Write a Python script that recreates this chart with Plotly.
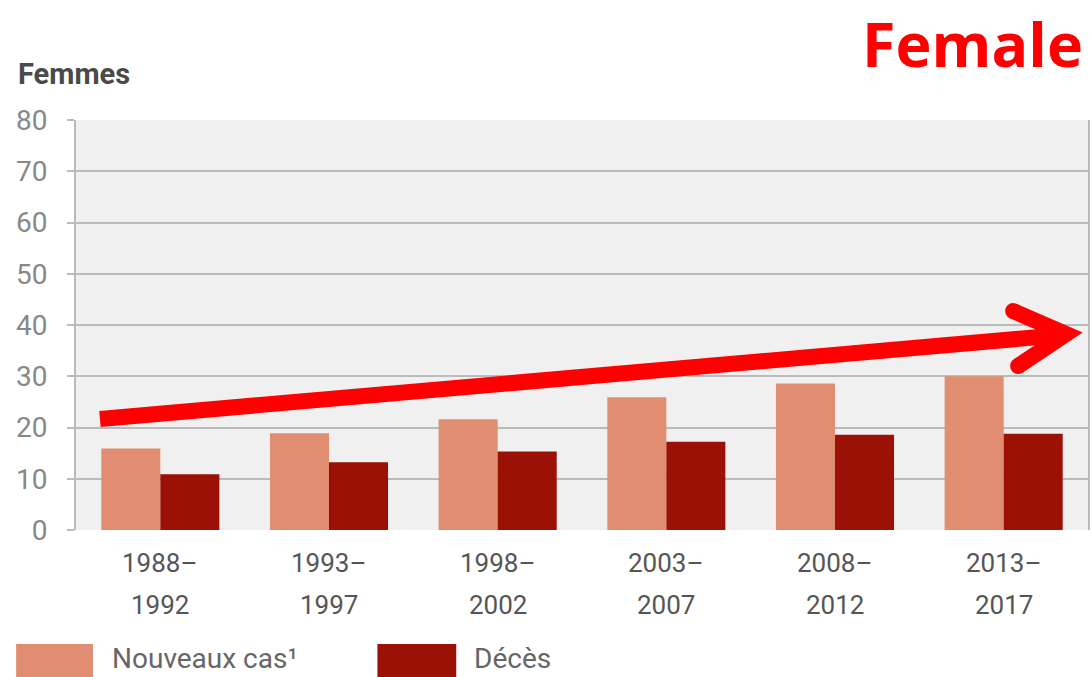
import plotly.graph_objects as go

# Periods and rates (per 100 000) for women
periods = ["1988–1992", "1993–1997", "1998–2002", "2003–2007", "2008–2012", "2013–2017"]
label_top = ["1988–", "1993–", "1998–", "2003–", "2008–", "2013–"]
label_bottom = ["1992", "1997", "2002", "2007", "2012", "2017"]
nouveaux_cas = [15.9, 18.9, 21.6, 25.9, 28.6, 30.0]
deces = [10.9, 13.2, 15.3, 17.2, 18.6, 18.8]
y_ticks = [0, 10, 20, 30, 40, 50, 60, 70, 80]

COL_CAS = "#e08d72"
COL_DECES = "#9b1106"
GRID = "#bababa"

W, H = 1092, 677
ML, MR, MT, MB = 76, 2, 120, 147
PW, PH = W - ML - MR, H - MT - MB


def px(x):
    return (x - ML) / PW


def py(y):
    return (H - MB - y) / PH


fig = go.Figure()
fig.add_trace(go.Bar(x=periods, y=nouveaux_cas, name="Nouveaux cas¹",
                     marker=dict(color=COL_CAS, line=dict(width=0))))
fig.add_trace(go.Bar(x=periods, y=deces, name="Décès",
                     marker=dict(color=COL_DECES, line=dict(width=0))))

shapes = []
# trend arrow
red = "#ff0000"
shapes.append(dict(type="path", xref="paper", yref="paper",
                   path=f"M{px(100)},{py(419)} L{px(1064)},{py(335)}",
                   line=dict(color=red, width=16)))
shapes.append(dict(type="path", xref="paper", yref="paper",
                   path=f"M{px(1015)},{py(311)} L{px(1068)},{py(334)} L{px(1020)},{py(366)}",
                   line=dict(color=red, width=16)))
for cx, cy in [(1015, 311), (1020, 366)]:
    shapes.append(dict(type="circle", xref="paper", yref="paper",
                       x0=px(cx - 8), x1=px(cx + 8), y0=py(cy + 8), y1=py(cy - 8),
                       fillcolor=red, line=dict(width=0)))

# legend swatches
shapes.append(dict(type="rect", xref="paper", yref="paper",
                   x0=px(16), x1=px(93), y0=py(690), y1=py(644),
                   fillcolor=COL_CAS, line=dict(width=0)))
shapes.append(dict(type="rect", xref="paper", yref="paper",
                   x0=px(378), x1=px(457), y0=py(690), y1=py(644),
                   fillcolor=COL_DECES, line=dict(width=0)))

tick_font = dict(family="Roboto", size=26, color="#555555")
annotations = [
    dict(text="Femmes", xref="paper", yref="paper", x=px(16), y=py(74),
         xanchor="left", yanchor="middle", showarrow=False,
         font=dict(family="Roboto", size=29, color="#4a4a4a", weight="bold")),
    dict(text="<b>Female</b>", xref="paper", yref="paper", x=px(1087), y=py(0),
         xanchor="right", yanchor="top", showarrow=False,
         font=dict(family="Open Sans", size=61, color=red)),
    dict(text="Nouveaux cas¹", xref="paper", yref="paper", x=px(110), y=py(677),
         xanchor="left", yanchor="bottom", showarrow=False,
         font=dict(family="Roboto", size=28, color="#666666")),
    dict(text="Décès", xref="paper", yref="paper", x=px(473), y=py(677),
         xanchor="left", yanchor="bottom", showarrow=False,
         font=dict(family="Roboto", size=28, color="#666666")),
]
# two-line period labels under each group
for p, t, b in zip(periods, label_top, label_bottom):
    annotations.append(dict(text=t, x=p, xref="x", yref="paper", y=py(563),
                            xanchor="center", yanchor="middle", showarrow=False,
                            font=tick_font))
    annotations.append(dict(text=b, x=p, xref="x", yref="paper", y=py(605),
                            xanchor="center", yanchor="middle", showarrow=False,
                            font=tick_font))

fig.update_layout(
    width=W, height=H,
    margin=dict(l=ML, r=MR, t=MT, b=MB, pad=0),
    paper_bgcolor="white", plot_bgcolor="#f0f0f0",
    barmode="group", bargap=0.30, bargroupgap=0,
    showlegend=False,
    shapes=shapes, annotations=annotations,
    xaxis=dict(showticklabels=False, showgrid=False, showline=False, ticks=""),
    yaxis=dict(range=[0, 80], tickmode="array", tickvals=y_ticks,
               showgrid=True, gridcolor=GRID, gridwidth=2,
               zeroline=False,
               showline=True, linecolor=GRID, linewidth=2, mirror=True,
               ticks="outside", ticklen=7, tickcolor=GRID, tickwidth=2,
               tickfont=dict(family="Roboto", size=28, color="#888888"),
               ticklabelstandoff=14),
)

fig.write_html("out.html")
